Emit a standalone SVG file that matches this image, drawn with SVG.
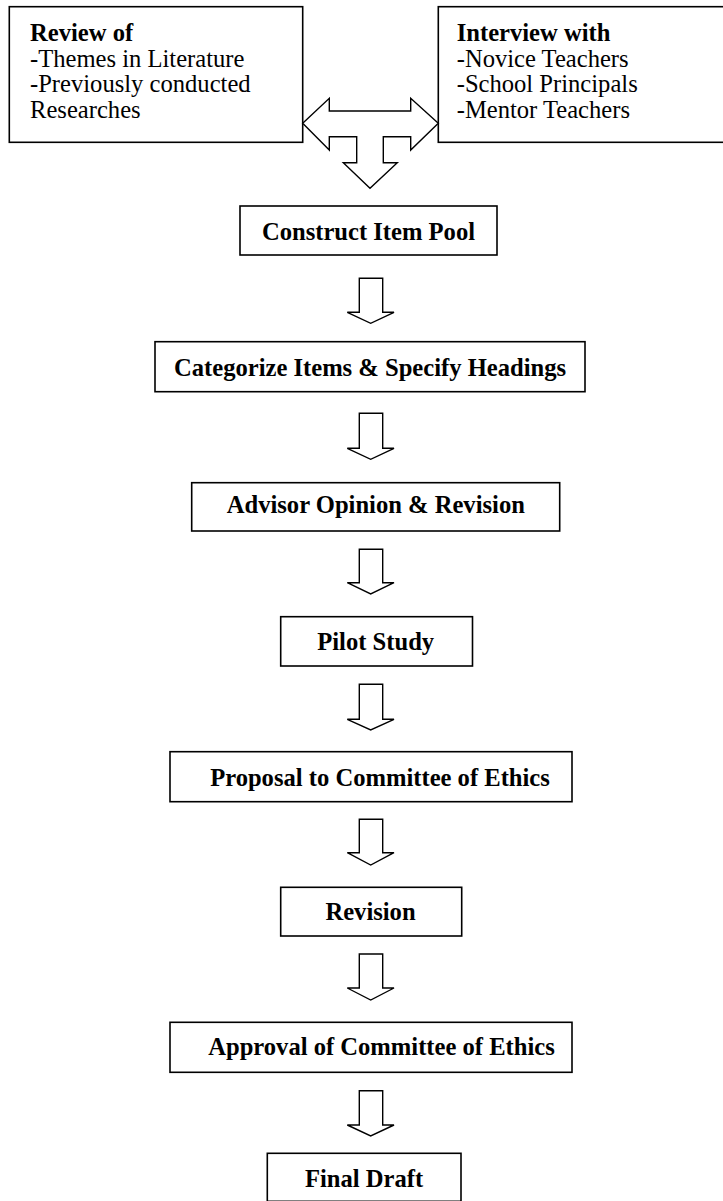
<svg xmlns="http://www.w3.org/2000/svg" width="723" height="1201" viewBox="0 0 723 1201">
  <style>
    .box { fill: #ffffff; stroke: #000000; stroke-width: 1.6; }
    .arrow { fill: #ffffff; stroke: #000000; stroke-width: 1.4; stroke-linejoin: miter; }
    .t { font-family: "Liberation Serif", "Times New Roman", serif; font-size: 24.6px; fill: #000000; }
    .b { font-weight: bold; }
    .c { text-anchor: middle; }
  </style>
  <rect width="723" height="1201" fill="#ffffff"/>

  <!-- source boxes -->
  <g id="review">
    <rect class="box" x="9.3" y="6.7" width="293.4" height="135.6"/>
    <text class="t b" x="30" y="40.7">Review of</text>
    <text class="t" x="30" y="66.5">-Themes in Literature</text>
    <text class="t" x="30" y="92.3">-Previously conducted</text>
    <text class="t" x="30" y="118.1">Researches</text>
  </g>
  <g id="interview">
    <rect class="box" x="438.3" y="6.7" width="290" height="135.6"/>
    <text class="t b" x="456.7" y="40.7">Interview with</text>
    <text class="t" x="456.7" y="66.5">-Novice Teachers</text>
    <text class="t" x="456.7" y="92.3">-School Principals</text>
    <text class="t" x="456.7" y="118.1">-Mentor Teachers</text>
  </g>

  <!-- process steps -->
  <g id="construct">
    <rect class="box" x="240" y="206" width="257" height="49"/>
    <text class="t b c" x="368.5" y="240">Construct Item Pool</text>
  </g>
  <g id="categorize">
    <rect class="box" x="155" y="341.7" width="430" height="50"/>
    <text class="t b c" x="370" y="376">Categorize Items &amp; Specify Headings</text>
  </g>
  <g id="advisor">
    <rect class="box" x="191.7" y="482.7" width="368" height="48.3"/>
    <text class="t b c" x="375.8" y="512.7">Advisor Opinion &amp; Revision</text>
  </g>
  <g id="pilot">
    <rect class="box" x="280.7" y="616.7" width="191.8" height="49.3"/>
    <text class="t b c" x="375.7" y="650">Pilot Study</text>
  </g>
  <g id="proposal">
    <rect class="box" x="170" y="751.7" width="402" height="50"/>
    <text class="t b c" x="380" y="786">Proposal to Committee of Ethics</text>
  </g>
  <g id="revision">
    <rect class="box" x="280.7" y="887.3" width="181" height="48.7"/>
    <text class="t b c" x="370.5" y="920">Revision</text>
  </g>
  <g id="approval">
    <rect class="box" x="170" y="1022.3" width="402" height="50"/>
    <text class="t b c" x="381.5" y="1055">Approval of Committee of Ethics</text>
  </g>
  <g id="final">
    <rect class="box" x="267.3" y="1153.3" width="193.7" height="48"/>
    <text class="t b c" x="364" y="1187">Final Draft</text>
  </g>

  <!-- connectors: hollow block arrows -->
  <g id="connectors">
    <path class="arrow" d="M302.7,123.3 L329.3,98.3 L329.3,111 L410.7,111 L410.7,98.3 L438.3,123.3 L410.7,150 L410.7,136.7 L383.3,136.7 L383.3,162.7 L397.3,162.7 L370,188.3 L343.3,162.7 L356.7,162.7 L356.7,136.7 L329.3,136.7 L329.3,150 Z"/>
    <path class="arrow" d="M359.3,278.3 H382.7 V312.3 H394 L370.7,323.3 L347.3,312.3 H359.3 Z"/>
    <path class="arrow" d="M359.3,413.3 H382.7 V448.3 H394 L370.7,459.3 L347.3,448.3 H359.3 Z"/>
    <path class="arrow" d="M359.3,549.3 H382.7 V582.7 H394 L370.7,594 L347.3,582.7 H359.3 Z"/>
    <path class="arrow" d="M359.3,684.3 H382.7 V719.3 H394 L370.7,730 L347.3,719.3 H359.3 Z"/>
    <path class="arrow" d="M359.3,819.3 H382.7 V852.7 H394 L370.7,865 L347.3,852.7 H359.3 Z"/>
    <path class="arrow" d="M359.3,954 H382.7 V988 H394 L370.7,1000 L347.3,988 H359.3 Z"/>
    <path class="arrow" d="M359.3,1090.7 H382.7 V1125 H394 L370.7,1136 L347.3,1125 H359.3 Z"/>
  </g>
</svg>
